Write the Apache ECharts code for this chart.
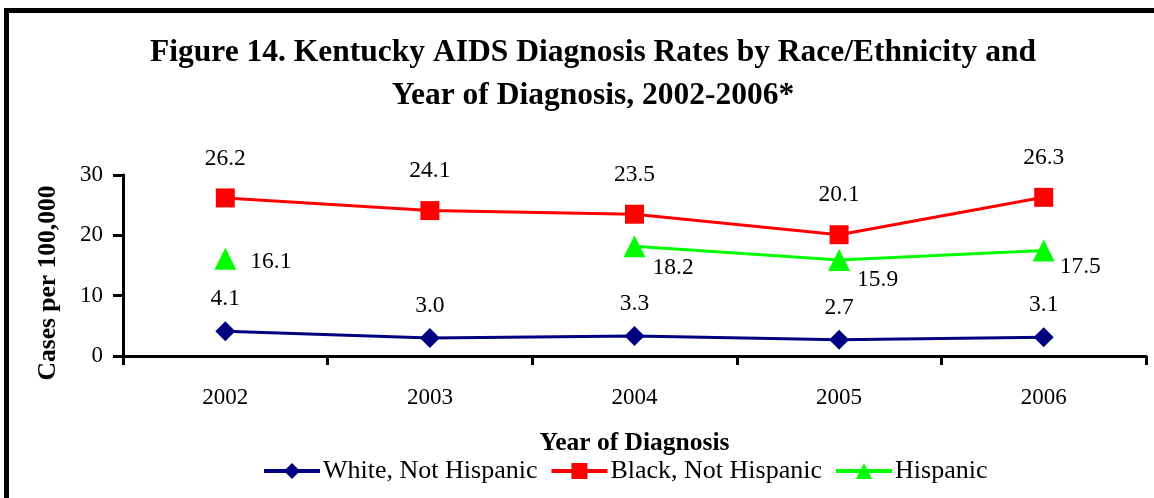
<!DOCTYPE html>
<html>
<head>
<meta charset="utf-8">
<script src="https://cdn.jsdelivr.net/npm/echarts@6/dist/echarts.min.js"></script>
<style>
  html, body { margin: 0; padding: 0; background: #fff; }
  #chart { width: 1154px; height: 498px; }
</style>
</head>
<body>
<div id="chart"></div>
<script>
// Kentucky AIDS diagnosis rates per 100,000, by race/ethnicity
const years = ['2002', '2003', '2004', '2005', '2006'];
const whiteNH = [4.1, 3.0, 3.3, 2.7, 3.1];
const blackNH = [26.2, 24.1, 23.5, 20.1, 26.3];
const hispanic = [16.1, null, 18.2, 15.9, 17.5];
const yTicks = { min: 0, max: 30, interval: 10 };

const serif = '"Liberation Serif", "Times New Roman", serif';

// Hispanic value labels sit to the lower right of each marker
const hispOffsets = [[0, 3], null, [-7, 22], [-7, 20], [-9, 16]];
const hispData = hispanic.map((v, i) => v == null ? null : {
  value: v,
  label: { offset: hispOffsets[i] }
});

const chart = echarts.init(document.getElementById('chart'));
chart.setOption({
  backgroundColor: '#fff',
  animation: false,
  title: {
    text: 'Figure 14. Kentucky AIDS Diagnosis Rates by Race/Ethnicity and\nYear of Diagnosis, 2002-2006*',
    left: 588,
    top: 26,
    textAlign: 'center',
    textStyle: {
      fontFamily: serif,
      fontWeight: 'bold',
      fontSize: 31.5,
      lineHeight: 43,
      color: '#000'
    }
  },
  graphic: [
    {
      type: 'rect',
      shape: { x: 6.5, y: 10.5, width: 1300, height: 700 },
      style: { fill: 'none', stroke: '#000', lineWidth: 5 },
      silent: true,
      z: 100
    },
    {
      // y-axis title
      type: 'text',
      x: 48,
      y: 283,
      rotation: Math.PI / 2,
      style: {
        text: 'Cases per 100,000',
        fontFamily: serif,
        fontWeight: 'bold',
        fontSize: 25.5,
        fill: '#000',
        align: 'center',
        verticalAlign: 'middle'
      }
    }
  ],
  legend: {
    bottom: 9,
    left: 257,
    itemWidth: 56,
    itemHeight: 20,
    itemGap: 12,
    lineStyle: { width: 4 },
    textStyle: { fontFamily: serif, fontSize: 26, color: '#000', padding: [0, 0, 0, -2] },
    data: ['White, Not Hispanic', 'Black, Not Hispanic', 'Hispanic']
  },
  grid: { left: 123, right: 8, top: 175, bottom: 142 },
  xAxis: {
    type: 'category',
    data: years,
    boundaryGap: true,
    name: 'Year of Diagnosis',
    nameLocation: 'middle',
    nameGap: 74,
    nameTextStyle: { fontFamily: serif, fontWeight: 'bold', fontSize: 25.5, color: '#000' },
    axisLine: { lineStyle: { color: '#000', width: 3 } },
    axisTick: { show: true, length: 9, alignWithLabel: false, lineStyle: { color: '#000', width: 3 } },
    axisLabel: { fontFamily: serif, fontSize: 23, color: '#000', margin: 30 }
  },
  yAxis: {
    type: 'value',
    min: yTicks.min,
    max: yTicks.max,
    interval: yTicks.interval,
    splitLine: { show: false },
    axisLine: { show: true, lineStyle: { color: '#000', width: 3 } },
    axisTick: { show: true, length: 10, lineStyle: { color: '#000', width: 3 } },
    axisLabel: { fontFamily: serif, fontSize: 23, color: '#000', margin: 20 }
  },
  series: [
    {
      name: 'White, Not Hispanic',
      type: 'line',
      data: whiteNH,
      color: '#000080',
      symbol: 'diamond',
      symbolSize: 20,
      lineStyle: { width: 3 },
      label: {
        show: true, position: 'top', distance: 10,
        formatter: p => p.value.toFixed(1),
        fontFamily: serif, fontSize: 23.5, color: '#000'
      }
    },
    {
      name: 'Black, Not Hispanic',
      type: 'line',
      data: blackNH,
      color: '#ff0000',
      symbol: 'rect',
      symbolSize: 19,
      lineStyle: { width: 3 },
      label: {
        show: true, position: 'top', distance: 18,
        formatter: p => p.value.toFixed(1),
        fontFamily: serif, fontSize: 23.5, color: '#000'
      }
    },
    {
      name: 'Hispanic',
      type: 'line',
      data: hispData,
      connectNulls: false,
      color: '#00ff00',
      symbol: 'triangle',
      symbolSize: 22,
      lineStyle: { width: 3 },
      label: {
        show: true, position: 'right', distance: 14,
        formatter: p => Number(p.value).toFixed(1),
        fontFamily: serif, fontSize: 23.5, color: '#000'
      }
    }
  ]
});
</script>
</body>
</html>
